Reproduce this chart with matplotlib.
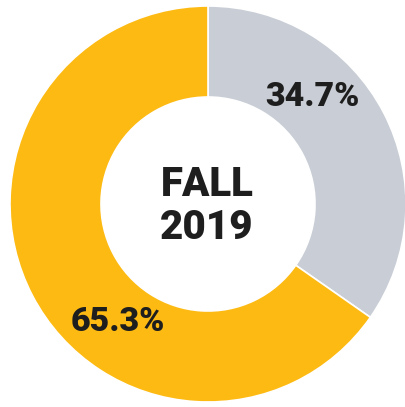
import matplotlib
matplotlib.use("Agg")
import matplotlib.pyplot as plt

labels = ["34.7%", "65.3%"]
values = [34.7, 65.3]
colors = ["#C9CED6", "#FDBA12"]
center_text = "FALL\n2019"

W, H = 406, 407
fig = plt.figure(figsize=(W / 100, H / 100), dpi=100)
ax = fig.add_axes([0, 0, 1, 1])

cx, cy = 208, H - 204
R = 198
ring = 91
ax.pie(values, colors=colors, startangle=90, counterclock=False,
       center=(cx, cy), radius=R,
       wedgeprops=dict(width=ring, edgecolor="white", linewidth=1.2))
ax.set_xlim(0, W)
ax.set_ylim(0, H)
ax.set_aspect("equal")
ax.axis("off")

font = dict(family=["Roboto", "DejaVu Sans"], weight="heavy", color="#1e1e1e")
ax.text(312, H - 97, labels[0], ha="center", va="center", fontsize=24.5, **font)
ax.text(118, H - 322, labels[1], ha="center", va="center", fontsize=24.5, **font)
ax.text(207, H - 206, center_text, ha="center", va="center", fontsize=29,
        linespacing=1.1, **font)

fig.savefig("out.png", dpi=100, facecolor="white")
